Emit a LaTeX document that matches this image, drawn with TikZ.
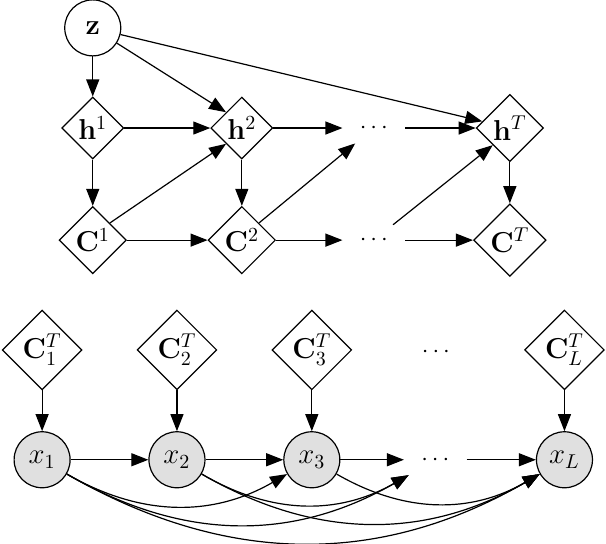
\documentclass[tikz,border=0pt]{standalone}
\usetikzlibrary{shapes.geometric,arrows.meta,positioning}
\definecolor{obsgray}{RGB}{224,224,224}

\begin{document}
\begin{tikzpicture}[
    latent/.style={draw, circle, line width=0.6pt, minimum size=28pt, inner sep=0pt, font=\Large},
    det/.style={draw, diamond, aspect=1, line width=0.6pt, inner sep=1.2pt, font=\Large},
    obs/.style={draw, circle, fill=obsgray, line width=0.6pt, minimum size=28pt, inner sep=0pt, font=\Large},
    ellip/.style={minimum width=31pt, minimum height=15pt, inner sep=0pt, font=\large},
    arrow/.style={line width=0.6pt, -{Triangle[length=8.5pt,width=6.5pt]}}
]
\useasboundingbox (0,0) rectangle (10.65,-9.56);

% Latent code
\node[latent] (z) at (1.63,-0.49) {$\mathbf{z}$};

% Hidden states
\node[det] (h1) at (1.63,-2.25) {$\mathbf{h}^1$};
\node[det] (h2) at (4.25,-2.25) {$\mathbf{h}^2$};
\node[ellip] (hdots) at (6.57,-2.25) {$\cdots$};
\node[det] (hT) at (8.96,-2.25) {$\mathbf{h}^T$};

% Canvases
\node[det] (C1) at (1.63,-4.22) {$\mathbf{C}^1$};
\node[det] (C2) at (4.25,-4.22) {$\mathbf{C}^2$};
\node[ellip] (Cdots) at (6.57,-4.22) {$\cdots$};
\node[det] (CT) at (8.96,-4.22) {$\mathbf{C}^T$};

% Final canvas entries
\node[det] (c1) at (0.74,-6.15) {$\mathbf{C}_1^T$};
\node[det] (c2) at (3.11,-6.15) {$\mathbf{C}_2^T$};
\node[det] (c3) at (5.48,-6.15) {$\mathbf{C}_3^T$};
\node[ellip] (cdots) at (7.66,-6.19) {$\cdots$};
\node[det] (cL) at (9.92,-6.15) {$\mathbf{C}_L^T$};

% Observed tokens
\node[obs] (x1) at (0.74,-8.08) {$x_1$};
\node[obs] (x2) at (3.11,-8.08) {$x_2$};
\node[obs] (x3) at (5.48,-8.08) {$x_3$};
\node[ellip] (xdots) at (7.65,-8.08) {$\cdots$};
\node[obs] (xL) at (9.92,-8.08) {$x_L$};

% Top part
\draw[arrow] (z) -- (h1);
\draw[arrow] (z) -- (h2.north west);
\draw[arrow] (z) -- (hT);

\draw[arrow] (h1) -- (h2);
\draw[arrow] (h2) -- (hdots);
\draw[arrow] (hdots) -- (hT);

\draw[arrow] (h1) -- (C1);
\draw[arrow] (h2) -- (C2);
\draw[arrow] (hT) -- (CT);

\draw[arrow] (C1) -- (C2);
\draw[arrow] (C2) -- (Cdots);
\draw[arrow] (Cdots) -- (CT);

\draw[arrow] (C1.north east) -- (h2.south west);
\draw[arrow] (C2.north east) -- (hdots);
\draw[arrow] (Cdots) -- (hT.south west);

% Bottom part
\foreach \i in {1,2,3,L}
    \draw[arrow] (c\i) -- (x\i);

\draw[arrow] (x1) -- (x2);
\draw[arrow] (x2) -- (x3);
\draw[arrow] (x3) -- (xdots);
\draw[arrow] (xdots) -- (xL);

\foreach \a/\b in {1/3,1/dots,1/L,2/dots,2/L,3/L}
    \draw[arrow] (x\a) to[bend right] (x\b);

\end{tikzpicture}
\end{document}
